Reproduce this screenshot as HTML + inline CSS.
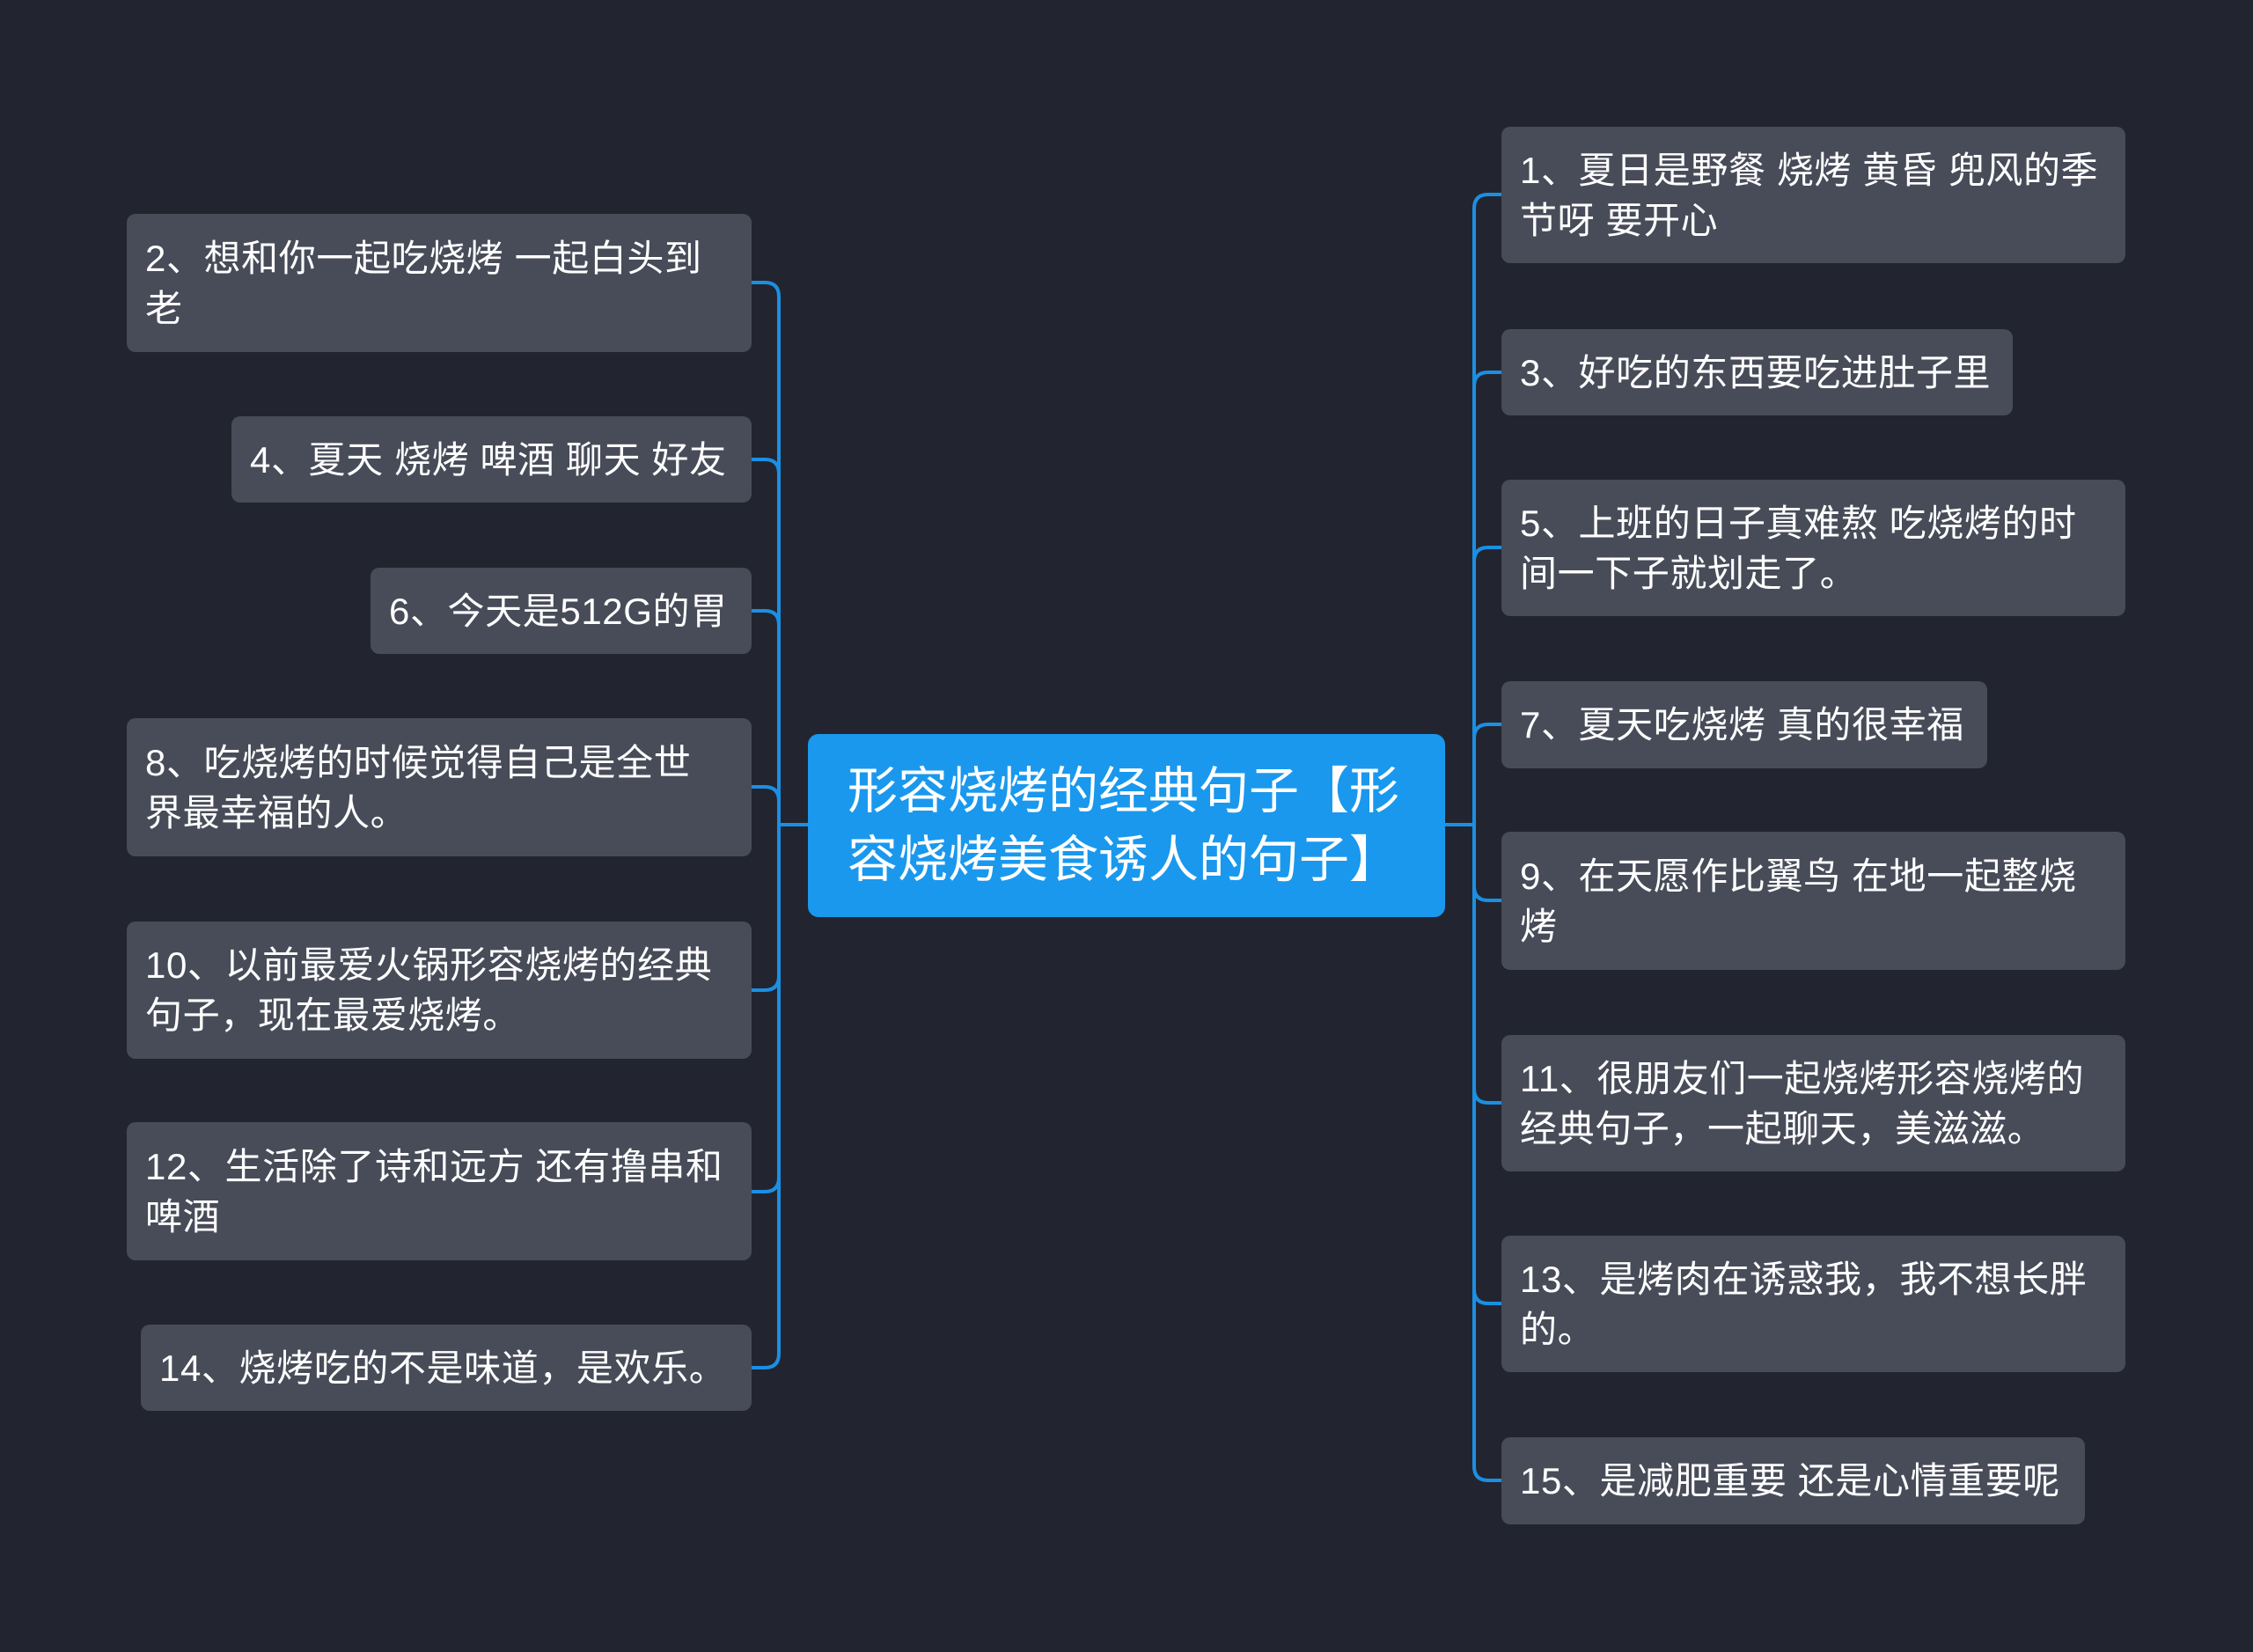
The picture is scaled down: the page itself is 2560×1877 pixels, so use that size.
<!DOCTYPE html>
<html><head><meta charset="utf-8"><style>
body{margin:0;width:2560px;height:1877px;background:#22252f;overflow:hidden;font-family:"Liberation Sans","Noto Sans CJK SC",sans-serif;}
.n{position:absolute;background:#484c59;border-radius:10px;color:#fff;font-size:42px;letter-spacing:0.6px;line-height:57px;padding:0 21px;box-sizing:border-box;display:flex;align-items:center;white-space:nowrap;}
.c{position:absolute;left:918px;top:834px;width:724px;height:208px;background:#1a98ee;border-radius:12px;color:#fff;font-size:57px;line-height:78px;padding:0 45px;box-sizing:border-box;display:flex;align-items:center;white-space:nowrap;}
svg{position:absolute;left:0;top:0}
</style></head><body>
<svg width="2560" height="1877" fill="none" stroke="#1b8fe3" stroke-width="4">
<path d="M918 937H885V337Q885 321 869 321H854"/>
<path d="M918 937H885V538Q885 522 869 522H854"/>
<path d="M918 937H885V710Q885 694 869 694H854"/>
<path d="M918 937H885V910Q885 894 869 894H854"/>
<path d="M918 937H885V1109Q885 1125 869 1125H854"/>
<path d="M918 937H885V1338Q885 1354 869 1354H854"/>
<path d="M918 937H885V1538Q885 1554 869 1554H854"/>
<path d="M1642 937H1675V237Q1675 221 1691 221H1706"/>
<path d="M1642 937H1675V439Q1675 423 1691 423H1706"/>
<path d="M1642 937H1675V638Q1675 622 1691 622H1706"/>
<path d="M1642 937H1675V839Q1675 823 1691 823H1706"/>
<path d="M1642 937H1675V1007Q1675 1023 1691 1023H1706"/>
<path d="M1642 937H1675V1237Q1675 1253 1691 1253H1706"/>
<path d="M1642 937H1675V1465Q1675 1481 1691 1481H1706"/>
<path d="M1642 937H1675V1666Q1675 1682 1691 1682H1706"/>
</svg>
<div class="c">形容烧烤的经典句子【形<br>容烧烤美食诱人的句子】</div>
<div class="n" style="left:144px;top:243px;width:710px;height:157px">2、想和你一起吃烧烤 一起白头到<br>老</div>
<div class="n" style="left:263px;top:473px;width:591px;height:98px">4、夏天 烧烤 啤酒 聊天 好友</div>
<div class="n" style="left:421px;top:645px;width:433px;height:98px">6、今天是512G的胃</div>
<div class="n" style="left:144px;top:816px;width:710px;height:157px">8、吃烧烤的时候觉得自己是全世<br>界最幸福的人。</div>
<div class="n" style="left:144px;top:1047px;width:710px;height:156px">10、以前最爱火锅形容烧烤的经典<br>句子，现在最爱烧烤。</div>
<div class="n" style="left:144px;top:1275px;width:710px;height:157px">12、生活除了诗和远方 还有撸串和<br>啤酒</div>
<div class="n" style="left:160px;top:1505px;width:694px;height:98px">14、烧烤吃的不是味道，是欢乐。</div>
<div class="n" style="left:1706px;top:144px;width:709px;height:155px">1、夏日是野餐 烧烤 黄昏 兜风的季<br>节呀 要开心</div>
<div class="n" style="left:1706px;top:374px;width:581px;height:98px">3、好吃的东西要吃进肚子里</div>
<div class="n" style="left:1706px;top:545px;width:709px;height:155px">5、上班的日子真难熬 吃烧烤的时<br>间一下子就划走了。</div>
<div class="n" style="left:1706px;top:774px;width:552px;height:99px">7、夏天吃烧烤 真的很幸福</div>
<div class="n" style="left:1706px;top:945px;width:709px;height:157px">9、在天愿作比翼鸟 在地一起整烧<br>烤</div>
<div class="n" style="left:1706px;top:1176px;width:709px;height:155px">11、很朋友们一起烧烤形容烧烤的<br>经典句子，一起聊天，美滋滋。</div>
<div class="n" style="left:1706px;top:1404px;width:709px;height:155px">13、是烤肉在诱惑我，我不想长胖<br>的。</div>
<div class="n" style="left:1706px;top:1633px;width:663px;height:99px">15、是减肥重要 还是心情重要呢</div>
</body></html>
